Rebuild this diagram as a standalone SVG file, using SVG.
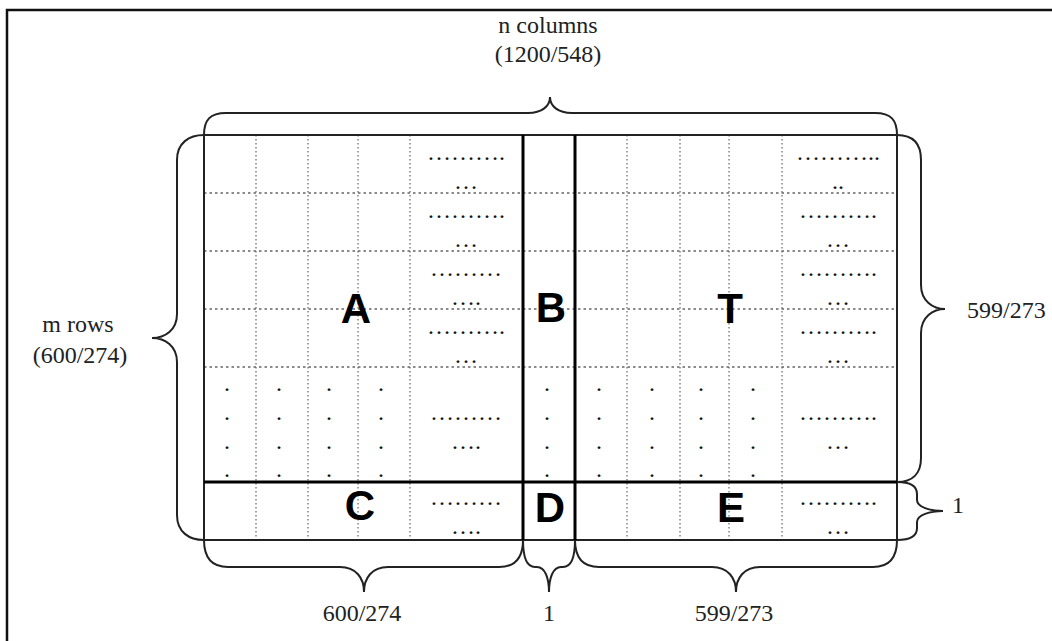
<svg xmlns="http://www.w3.org/2000/svg" width="1052" height="641" viewBox="0 0 1052 641">
<style>
.lbl{font-family:"Liberation Serif","Times New Roman",serif;font-size:24px;fill:#222}
.big{font-family:"Liberation Sans",Arial,sans-serif;font-weight:bold;font-size:42px;fill:#000;text-anchor:middle}
.dt{font-family:"Liberation Serif","Times New Roman",serif;font-size:24px;fill:#111;text-anchor:middle}
.vd{stroke:#444;stroke-width:1;stroke-dasharray:1.5 2.5;fill:none}
.hd{stroke:#666;stroke-width:1.3;stroke-dasharray:2.5 3;fill:none}
.thick{stroke:#000;stroke-width:3;fill:none}
.edge{stroke:#222;stroke-width:2;fill:none}
.brace{stroke:#222;stroke-width:2;fill:none}
</style>
<rect width="1052" height="641" fill="#fff"/>
<path d="M7,641 V10 H1052" stroke="#111" stroke-width="2.5" fill="none"/>

<g id="grid">
  <g id="dotted-vertical">
    <path class="vd" d="M256,135V540M308,135V540M358,135V540M410,135V540M627,135V540M680,135V540M729,135V540M782,135V540"/>
  </g>
  <g id="dotted-horizontal">
    <path class="hd" d="M204,193H897M204,251H897M204,309H897M204,367H897"/>
  </g>
  <rect class="edge" x="204" y="135" width="693" height="405"/>
  <path class="thick" d="M523,135V540M575,135V540M204,482H897"/>
</g>

<g id="cell-dots">
  <text class="dt" x="466" y="160">……….</text><text class="dt" x="466" y="189">…</text>
  <text class="dt" x="466" y="218">……….</text><text class="dt" x="466" y="247">…</text>
  <text class="dt" x="466" y="276">………</text><text class="dt" x="466" y="305">….</text>
  <text class="dt" x="466" y="334">……….</text><text class="dt" x="466" y="363">…</text>
  <text class="dt" x="466" y="420">………</text><text class="dt" x="466" y="449">….</text>
  <text class="dt" x="466" y="505">………</text><text class="dt" x="466" y="534">….</text>

  <text class="dt" x="838" y="160">………..</text><text class="dt" x="838" y="189">..</text>
  <text class="dt" x="838" y="218">……….</text><text class="dt" x="838" y="247">…</text>
  <text class="dt" x="838" y="276">……….</text><text class="dt" x="838" y="305">…</text>
  <text class="dt" x="838" y="334">……….</text><text class="dt" x="838" y="363">…</text>
  <text class="dt" x="838" y="420">……….</text><text class="dt" x="838" y="449">…</text>
  <text class="dt" x="838" y="505">……….</text><text class="dt" x="838" y="534">…</text>

  <g id="vertical-dots">
    <text class="dt" x="227" y="391">.</text><text class="dt" x="227" y="420">.</text><text class="dt" x="227" y="449">.</text><text class="dt" x="227" y="477">.</text>
    <text class="dt" x="279" y="391">.</text><text class="dt" x="279" y="420">.</text><text class="dt" x="279" y="449">.</text><text class="dt" x="279" y="477">.</text>
    <text class="dt" x="329" y="391">.</text><text class="dt" x="329" y="420">.</text><text class="dt" x="329" y="449">.</text><text class="dt" x="329" y="477">.</text>
    <text class="dt" x="381" y="391">.</text><text class="dt" x="381" y="420">.</text><text class="dt" x="381" y="449">.</text><text class="dt" x="381" y="477">.</text>
    <text class="dt" x="547" y="391">.</text><text class="dt" x="547" y="420">.</text><text class="dt" x="547" y="449">.</text><text class="dt" x="547" y="477">.</text>
    <text class="dt" x="599" y="391">.</text><text class="dt" x="599" y="420">.</text><text class="dt" x="599" y="449">.</text><text class="dt" x="599" y="477">.</text>
    <text class="dt" x="652" y="391">.</text><text class="dt" x="652" y="420">.</text><text class="dt" x="652" y="449">.</text><text class="dt" x="652" y="477">.</text>
    <text class="dt" x="701" y="391">.</text><text class="dt" x="701" y="420">.</text><text class="dt" x="701" y="449">.</text><text class="dt" x="701" y="477">.</text>
    <text class="dt" x="753" y="391">.</text><text class="dt" x="753" y="420">.</text><text class="dt" x="753" y="449">.</text><text class="dt" x="753" y="477">.</text>
  </g>
</g>

<g id="node-A"><text class="big" x="356" y="323">A</text></g>
<g id="node-B"><text class="big" x="551" y="322">B</text></g>
<g id="node-T"><text class="big" x="730" y="323">T</text></g>
<g id="node-C"><text class="big" x="360" y="520">C</text></g>
<g id="node-D"><text class="big" x="550" y="522">D</text></g>
<g id="node-E"><text class="big" x="731" y="522">E</text></g>

<g id="connectors">
  <path class="brace" d="M204,135 C204,120 210,113 226,113 L528,113 C542,113 550,106 550,97 C550,106 558,113 572,113 L875,113 C891,113 897,120 897,135"/>
  <path class="brace" d="M204,135 C189,135 177,143 177,160 L177,314 C177,330 165,338 152,338 C165,338 177,346 177,362 L177,515 C177,532 189,540 204,540"/>
  <path class="brace" d="M897,135 C912,135 921,143 921,160 L921,285 C921,301 933,309 945,309 C933,309 921,317 921,333 L921,458 C921,474 912,482 897,482"/>
  <path class="brace" d="M897,482 C910,482 917,486 917,494 L917,500 C917,507 930,511 943,511 C930,511 917,515 917,522 L917,528 C917,536 910,540 897,540"/>
  <path class="brace" d="M204,540 C204,558 212,567 228,567 L340,567 C356,567 364,578 364,592 C364,578 372,567 388,567 L499,567 C515,567 523,558 523,540"/>
  <path class="brace" d="M523,540 C523,558 527,567 535,567 L537,567 C545,567 549,578 549,592 C549,578 553,567 561,567 L563,567 C571,567 575,558 575,540"/>
  <path class="brace" d="M575,540 C575,558 583,567 599,567 L712,567 C728,567 736,578 736,592 C736,578 744,567 760,567 L873,567 C889,567 897,558 897,540"/>
</g>

<g id="labels">
  <text class="lbl" x="548" y="33" text-anchor="middle">n columns</text>
  <text class="lbl" x="548" y="62" text-anchor="middle">(1200/548)</text>
  <text class="lbl" x="78" y="332" text-anchor="middle">m rows</text>
  <text class="lbl" x="80" y="363" text-anchor="middle">(600/274)</text>
  <text class="lbl" x="967" y="318">599/273</text>
  <text class="lbl" x="952" y="513">1</text>
  <text class="lbl" x="362" y="621" text-anchor="middle">600/274</text>
  <text class="lbl" x="549" y="621" text-anchor="middle">1</text>
  <text class="lbl" x="734" y="621" text-anchor="middle">599/273</text>
</g>
</svg>
